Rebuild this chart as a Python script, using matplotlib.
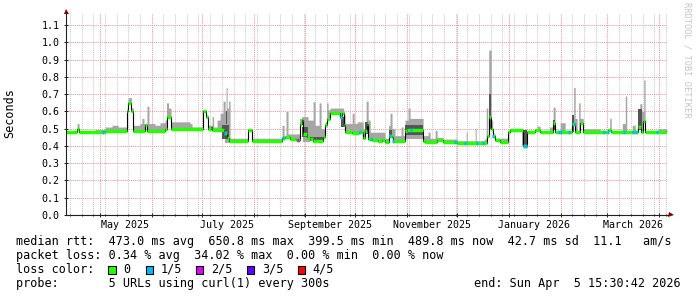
import datetime as dt
import numpy as np
import matplotlib
matplotlib.use("Agg")
import matplotlib.pyplot as plt
import matplotlib.dates as mdates
from matplotlib.patches import Rectangle

start = dt.datetime(2025, 4, 10, 15, 30, 42)
end = dt.datetime(2026, 4, 5, 15, 30, 42)
span_days = 360

# median rtt in seconds, a step: value holds from med_day until the next one
med_day = [0.0, 6.6, 7.8, 23.4, 36.6, 37.2, 39.2, 40.4, 47.3, 48.5,
           59.3, 60.5, 62.9, 82.1, 83.6, 85.1, 86.6, 87.5, 94.7, 96.2,
           97.4, 109.1, 111.5, 129.4, 131.2, 134.2, 137.8, 139.9, 141.1, 142.0,
           144.4, 146.2, 148.0, 153.7, 155.2, 156.4, 158.2, 163.9, 165.1, 166.3,
           167.2, 171.4, 175.6, 177.7, 178.9, 180.1, 181.0, 183.4, 186.9, 189.3,
           191.1, 193.2, 195.0, 195.9, 203.1, 204.3, 213.9, 215.1, 222.3, 225.9,
           234.3, 252.0, 253.2, 254.7, 255.6, 256.8, 260.1, 264.5, 266.0, 273.8,
           275.9, 281.0, 284.0, 291.8, 293.0, 303.2, 304.7, 308.0, 309.5, 324.8,
           326.6, 342.8, 344.2, 345.7, 346.9]
med_val = [0.481, 0.50, 0.481, 0.487, 0.60, 0.647, 0.60, 0.489, 0.52, 0.489,
           0.50, 0.57, 0.497, 0.60, 0.57, 0.50, 0.51, 0.495, 0.477, 0.445,
           0.431, 0.493, 0.431, 0.445, 0.45, 0.44, 0.435, 0.53, 0.55, 0.47,
           0.45, 0.44, 0.43, 0.45, 0.52, 0.556, 0.59, 0.57, 0.59, 0.52,
           0.483, 0.475, 0.48, 0.445, 0.485, 0.53, 0.44, 0.437, 0.43, 0.437,
           0.425, 0.46, 0.45, 0.43, 0.485, 0.49, 0.43, 0.425, 0.437, 0.425,
           0.42, 0.46, 0.57, 0.50, 0.46, 0.437, 0.425, 0.483, 0.49, 0.40,
           0.48, 0.495, 0.483, 0.535, 0.483, 0.53, 0.483, 0.535, 0.483, 0.49,
           0.483, 0.51, 0.483, 0.545, 0.483]

# upper edge of the smoke (slowest ping), also a step
smoke_day = [0.0, 6.6, 7.8, 17.4, 23.4, 27.6, 31.2, 36.6, 37.2, 39.2,
             40.4, 44.3, 45.5, 46.7, 48.5, 49.7, 53.3, 56.3, 59.3, 60.2,
             61.4, 62.9, 74.3, 75.5, 82.1, 83.6, 85.1, 87.5, 88.4, 90.5,
             92.3, 94.1, 95.3, 95.9, 96.5, 97.4, 98.3, 109.1, 111.5, 129.4,
             130.6, 131.8, 133.0, 139.9, 141.1, 145.0, 148.0, 149.2, 151.6, 152.8,
             155.2, 156.1, 157.0, 158.2, 166.3, 167.2, 171.4, 172.6, 174.4, 178.0,
             179.8, 181.0, 182.2, 191.1, 193.2, 194.1, 195.3, 197.1, 200.7, 201.9,
             203.1, 204.9, 206.1, 213.9, 216.9, 218.1, 221.1, 222.3, 225.9, 234.3,
             239.7, 240.3, 245.1, 245.7, 250.5, 251.7, 252.6, 253.2, 254.7, 255.6,
             257.1, 264.5, 266.0, 273.2, 276.2, 281.0, 282.2, 284.0, 289.6, 291.8,
             293.0, 296.0, 299.0, 303.2, 304.1, 305.0, 306.2, 307.1, 308.0, 309.8,
             320.0, 325.7, 326.6, 333.2, 335.0, 335.9, 339.2, 341.0, 342.8, 343.7,
             344.9, 346.1, 346.9, 354.7]
smoke_hi = [0.488, 0.53, 0.488, 0.495, 0.51, 0.52, 0.51, 0.62, 0.68, 0.62,
            0.52, 0.53, 0.56, 0.53, 0.63, 0.53, 0.52, 0.535, 0.55, 0.65,
            0.62, 0.54, 0.53, 0.51, 0.61, 0.58, 0.52, 0.57, 0.51, 0.55,
            0.59, 0.66, 0.60, 0.74, 0.62, 0.66, 0.445, 0.50, 0.445, 0.52,
            0.46, 0.60, 0.47, 0.56, 0.57, 0.55, 0.657, 0.52, 0.65, 0.50,
            0.54, 0.65, 0.61, 0.62, 0.58, 0.53, 0.59, 0.53, 0.54, 0.50,
            0.66, 0.55, 0.48, 0.445, 0.52, 0.59, 0.50, 0.46, 0.51, 0.46,
            0.55, 0.62, 0.56, 0.46, 0.48, 0.445, 0.49, 0.45, 0.44, 0.43,
            0.48, 0.43, 0.50, 0.43, 0.44, 0.62, 0.46, 0.955, 0.55, 0.47,
            0.445, 0.49, 0.50, 0.49, 0.49, 0.50, 0.515, 0.49, 0.51, 0.625,
            0.49, 0.535, 0.49, 0.55, 0.74, 0.56, 0.49, 0.65, 0.56, 0.50,
            0.49, 0.56, 0.49, 0.53, 0.69, 0.49, 0.52, 0.49, 0.61, 0.645,
            0.60, 0.783, 0.49, 0.50]

# inner (dense) part of the smoke
dark_start = [93.5, 95.9, 141.1, 146.2, 164.5, 178.9, 193.2, 203.1, 253.2, 273.8, 291.8, 303.2, 342.8]
dark_end = [97.4, 96.5, 145.0, 153.7, 167.2, 180.7, 195.0, 213.9, 254.7, 275.9, 292.7, 304.4, 344.9]
dark_lo = [0.44, 0.53, 0.45, 0.43, 0.51, 0.47, 0.45, 0.465, 0.50, 0.40, 0.49, 0.48, 0.49]
dark_hi = [0.52, 0.60, 0.51, 0.45, 0.57, 0.54, 0.49, 0.52, 0.70, 0.49, 0.55, 0.58, 0.615]

# smoke reaching below the median
low_start = [95.3, 142.0, 203.1, 273.2]
low_end = [98.3, 146.2, 213.9, 276.2]
low_val = [0.42, 0.425, 0.44, 0.40]

# days with packet loss
loss1_day = [22.2, 95.3, 129.8, 164.6, 176.2, 182.6, 194.1, 195.9, 206.7, 233.1,
             239.1, 246.1, 249.9, 256.0, 274.5, 275.7, 295.6, 296.8, 301.0, 304.0,
             322.0, 324.4, 334.0, 339.4, 341.2, 353.8]
loss2_day = [138.8]

loss_labels = ["0", "1/5", "2/5", "3/5", "4/5"]
loss_colors = ["#26ff00", "#00b8ff", "#dd00ff", "#5e00ff", "#ff0000"]

month_labels = ["May 2025", "July 2025", "September 2025", "November 2025", "January 2026", "March 2026"]
month_label_at = [(2025, 5), (2025, 7), (2025, 9), (2025, 11), (2026, 1), (2026, 3)]

legend_lines = [
    "median rtt:  473.0 ms avg  650.8 ms max  399.5 ms min  489.8 ms now  42.7 ms sd  11.1   am/s",
    "packet loss: 0.34 % avg  34.02 % max  0.00 % min  0.00 % now",
    "loss color:",
    "probe:       5 URLs using curl(1) every 300s",
]
end_text = "end: Sun Apr  5 15:30:42 2026"

MONO = "DejaVu Sans Mono"
light = "#a6a6a6"
dark = "#555555"


def step_at(days, vals, x):
    idx = np.searchsorted(days, x, side="right") - 1
    return np.asarray(vals)[idx]


W, H = 697, 297
fig = plt.figure(figsize=(W / 100, H / 100), dpi=100)
fig.patch.set_facecolor("white")
ax = fig.add_axes([66 / W, (H - 215) / H, 601 / W, 202 / H])
t0 = mdates.date2num(start)
ax.set_xlim(t0, t0 + span_days)
ax.set_ylim(0, 1.171)

grid = np.arange(0, span_days + 0.05, 0.1)
med_g = step_at(med_day, med_val, grid)
hi_g = step_at(smoke_day, smoke_hi, grid)
ax.fill_between(t0 + grid, med_g, hi_g, step="post", color=light, lw=0, zorder=2)

for s, e, lo in zip(low_start, low_end, low_val):
    m = (grid >= s) & (grid <= e)
    ax.fill_between(t0 + grid[m], lo, med_g[m], step="post", color=light, lw=0, zorder=2)

for s, e, lo, hi in zip(dark_start, dark_end, dark_lo, dark_hi):
    ax.fill_between([t0 + s, t0 + e], lo, hi, color=dark, lw=0, zorder=3)

md = np.array(med_day)
mv = np.array(med_val)
ax.step(t0 + np.r_[md, span_days], np.r_[mv, mv[-1]], where="post", color="black", lw=0.8, zorder=4)
ax.hlines(mv, t0 + md, t0 + np.r_[md[1:], span_days], colors=loss_colors[0], lw=2.5, zorder=5)

for days, col in ((loss1_day, loss_colors[1]), (loss2_day, loss_colors[2])):
    for d in days:
        v = step_at(med_day, med_val, d)
        ax.hlines(v, t0 + d - 0.6, t0 + d + 0.6, colors=col, lw=2.5, zorder=6)

# grid: weekly grey, monthly red, 0.1 s red
ax.xaxis.set_major_locator(mdates.MonthLocator())
ax.xaxis.set_minor_locator(mdates.WeekdayLocator(byweekday=mdates.SU))
ax.set_yticks(np.arange(0, 1.15, 0.1))
ax.set_yticklabels([f"{v:.1f}" for v in np.arange(0, 1.15, 0.1)], family=MONO, fontsize=7.2)
ax.set_xticklabels([])
ax.grid(which="minor", axis="x", color="#c8c8c8", lw=0.75, ls=(0, (1, 1)))
ax.grid(which="major", axis="x", color="#e59a9a", lw=0.75, ls=(0, (1, 1)))
ax.grid(which="major", axis="y", color="#e59a9a", lw=0.75, ls=(0, (1, 1)))
ax.set_axisbelow(True)
ax.tick_params(axis="y", which="major", length=3, direction="inout", width=0.7, color="#202020", pad=3)
ax.tick_params(axis="x", which="major", length=3, direction="inout", width=0.7, color="#202020")
ax.tick_params(axis="x", which="minor", length=2, direction="inout", width=0.7, color="#202020")
for sp in ax.spines.values():
    sp.set_visible(False)
ax.set_facecolor("white")

# axes with arrows
ax.plot([0, 0], [0, 1.0], transform=ax.transAxes, clip_on=False, color="#202020", lw=0.8, zorder=7)
ax.plot([0, 1.0 + 1 / 601], [0, 0], transform=ax.transAxes, clip_on=False, color="#202020", lw=0.8, zorder=7)
ax.plot([0], [1 + 2 / 202], marker="^", ms=3.6, color="#800000", mew=0,
        transform=ax.transAxes, clip_on=False, zorder=8)
ax.plot([1 + 4 / 601], [0], marker=">", ms=3.6, color="#800000", mew=0,
        transform=ax.transAxes, clip_on=False, zorder=8)

for txt, (yr, mo) in zip(month_labels, month_label_at):
    x = mdates.date2num(dt.datetime(yr, mo, 16))
    ax.text(x, -10 / 202, txt, transform=ax.get_xaxis_transform(), ha="center", va="center",
            family=MONO, fontsize=7.2)

fig.text(10 / W, 1 - 113 / H, "Seconds", rotation=90, ha="center", va="center", family=MONO, fontsize=8.5)
fig.text(686.5 / W, 1 - 60 / H, "RRDTOOL / TOBI OETIKER", rotation=270, ha="center", va="center",
         family=MONO, fontsize=6.2, color="#c4c4c4")

row_y = [241.3, 255.3, 269.3, 283.2]
for txt, y in zip(legend_lines, row_y):
    fig.text(16 / W, 1 - y / H, txt, ha="left", va="center", family=MONO, fontsize=8.5)
fig.text(681 / W, 1 - row_y[3] / H, end_text, ha="right", va="center", family=MONO, fontsize=8.5)

box_x = [108.3, 145.7, 195.7, 246.7, 297.7]
lab_x = [123.3, 160.7, 210.7, 261.7, 312.7]
for bx, lx, lab, col in zip(box_x, lab_x, loss_labels, loss_colors):
    fig.patches.append(Rectangle((bx / W, 1 - 274 / H), 7.5 / W, 8.5 / H, transform=fig.transFigure,
                                 facecolor=col, edgecolor="black", lw=0.8))
    fig.text(lx / W, 1 - row_y[2] / H, lab, ha="left", va="center", family=MONO, fontsize=8.5)

fig.savefig("out.png", dpi=100, facecolor="white")
